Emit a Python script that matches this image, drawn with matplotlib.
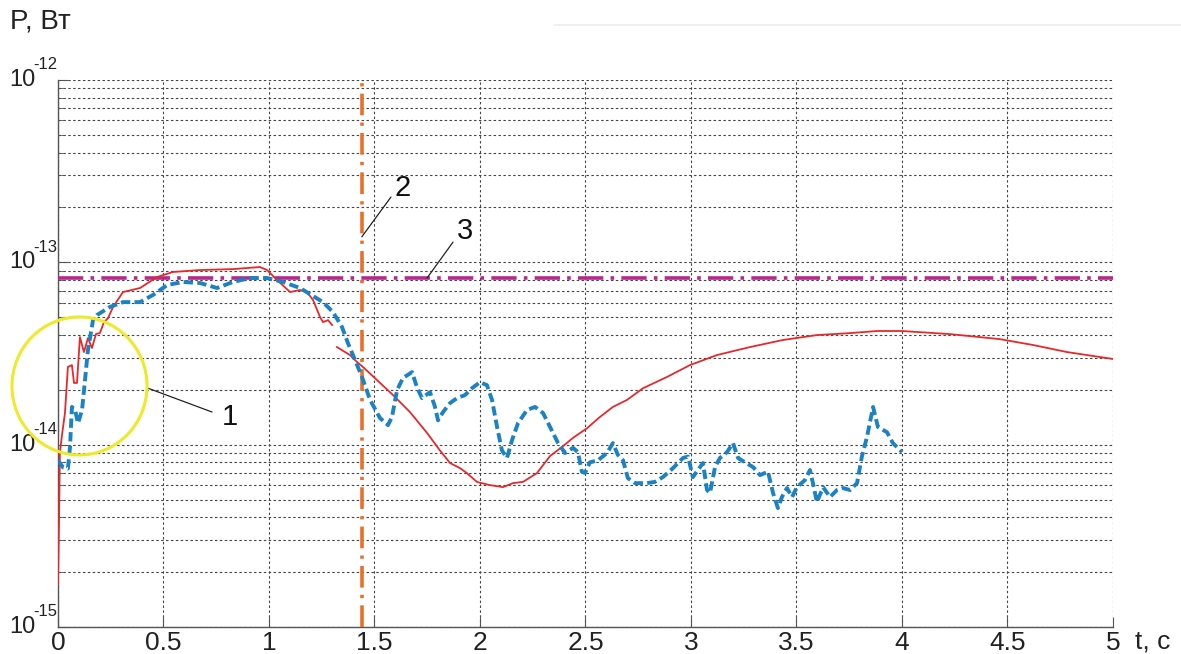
import matplotlib
matplotlib.use("Agg")
import matplotlib.pyplot as plt
from matplotlib.patches import Ellipse
from matplotlib.ticker import LogLocator, NullFormatter

plt.rcParams["font.family"] = ["Liberation Sans", "DejaVu Sans"]

# curve 1 (solid): received power, first segment and the rest
t_red_a = [0.000, 0.005, 0.009, 0.019, 0.033, 0.047, 0.066, 0.076, 0.090, 0.104,
           0.123, 0.142, 0.161, 0.180, 0.199, 0.218, 0.237, 0.261, 0.308, 0.389,
           0.469, 0.545, 0.673, 0.829, 0.957, 0.991, 1.038, 1.100, 1.147, 1.180,
           1.209, 1.242, 1.256, 1.280, 1.299]
p_red_a = [1.70e-15, 3.86e-15, 9.0e-15, 1.13e-14, 1.49e-14, 2.67e-14, 2.73e-14, 2.18e-14, 2.18e-14, 3.89e-14,
           3.22e-14, 3.84e-14, 3.39e-14, 4.04e-14, 4.10e-14, 4.70e-14, 4.94e-14, 5.69e-14, 6.87e-14, 7.23e-14,
           8.30e-14, 8.85e-14, 9.07e-14, 9.18e-14, 9.42e-14, 9.07e-14, 8.00e-14, 6.87e-14, 7.05e-14, 6.87e-14,
           6.21e-14, 5.01e-14, 4.70e-14, 4.82e-14, 4.53e-14]

t_red_b = [1.322, 1.384, 1.417, 1.445, 1.512, 1.588, 1.668, 1.749, 1.810, 1.858,
           1.905, 1.938, 1.986, 2.047, 2.109, 2.156, 2.204, 2.270, 2.332, 2.393,
           2.441, 2.507, 2.569, 2.630, 2.697, 2.773, 2.886, 2.995, 3.123, 3.280,
           3.436, 3.597, 3.754, 3.882, 4.000, 4.227, 4.464, 4.621, 4.782, 5.000]
p_red_b = [3.43e-14, 3.10e-14, 2.84e-14, 2.67e-14, 2.26e-14, 1.87e-14, 1.51e-14, 1.16e-14, 9.3e-15, 7.93e-15,
           7.44e-15, 6.98e-15, 6.24e-15, 6.00e-15, 5.85e-15, 6.15e-15, 6.25e-15, 6.98e-15, 8.66e-15, 9.8e-15,
           1.09e-14, 1.23e-14, 1.42e-14, 1.61e-14, 1.76e-14, 2.04e-14, 2.35e-14, 2.73e-14, 3.10e-14, 3.43e-14,
           3.75e-14, 3.99e-14, 4.09e-14, 4.20e-14, 4.20e-14, 4.04e-14, 3.79e-14, 3.52e-14, 3.22e-14, 2.95e-14]

# curve 1 (dashed): measured power
t_blue = [0.000, 0.024, 0.047, 0.057, 0.066, 0.081, 0.095, 0.114, 0.128, 0.142,
          0.166, 0.185, 0.246, 0.308, 0.389, 0.450, 0.517, 0.592, 0.673, 0.754,
          0.829, 0.910, 0.991, 1.066, 1.147, 1.256, 1.303, 1.346, 1.374, 1.408,
          1.441, 1.479, 1.526, 1.564, 1.583, 1.607, 1.635, 1.678, 1.701, 1.725,
          1.763, 1.787, 1.801, 1.825, 1.858, 1.891, 1.929, 1.962, 2.000, 2.033,
          2.057, 2.081, 2.104, 2.128, 2.152, 2.180, 2.223, 2.261, 2.299, 2.332,
          2.370, 2.403, 2.441, 2.464, 2.483, 2.498, 2.521, 2.559, 2.602, 2.630,
          2.654, 2.678, 2.701, 2.735, 2.791, 2.829, 2.867, 2.915, 2.962, 2.986,
          3.009, 3.033, 3.057, 3.076, 3.090, 3.114, 3.137, 3.171, 3.199, 3.223,
          3.256, 3.294, 3.327, 3.365, 3.389, 3.412, 3.431, 3.455, 3.479, 3.502,
          3.540, 3.564, 3.578, 3.597, 3.626, 3.659, 3.692, 3.720, 3.754, 3.787,
          3.810, 3.834, 3.863, 3.886, 3.929, 3.957, 4.000]
p_blue = [8.2e-15, 7.5e-15, 7.4e-15, 9.7e-15, 1.61e-14, 1.55e-14, 1.31e-14, 1.55e-14, 2.26e-14, 3.30e-14,
          4.82e-14, 5.14e-14, 5.69e-14, 6.05e-14, 6.05e-14, 6.62e-14, 7.50e-14, 7.80e-14, 7.70e-14, 7.23e-14,
          7.80e-14, 8.20e-14, 8.20e-14, 7.80e-14, 7.23e-14, 6.05e-14, 5.34e-14, 4.42e-14, 3.61e-14, 2.91e-14,
          2.35e-14, 1.76e-14, 1.40e-14, 1.28e-14, 1.42e-14, 1.99e-14, 2.32e-14, 2.50e-14, 2.07e-14, 1.80e-14,
          1.94e-14, 1.61e-14, 1.36e-14, 1.51e-14, 1.69e-14, 1.80e-14, 1.87e-14, 2.04e-14, 2.20e-14, 2.12e-14,
          1.76e-14, 1.25e-14, 9.3e-15, 8.45e-15, 1.06e-14, 1.31e-14, 1.55e-14, 1.61e-14, 1.49e-14, 1.25e-14,
          1.02e-14, 9.0e-15, 9.6e-15, 9.1e-15, 7.1e-15, 7.0e-15, 8.0e-15, 8.2e-15, 9.0e-15, 1.02e-14,
          8.77e-15, 8.2e-15, 6.55e-15, 6.15e-15, 6.15e-15, 6.25e-15, 6.64e-15, 7.44e-15, 8.45e-15, 8.6e-15,
          6.64e-15, 7.26e-15, 7.93e-15, 5.64e-15, 5.43e-15, 7.54e-15, 8.45e-15, 9.1e-15, 1.02e-14, 8.45e-15,
          8.0e-15, 7.54e-15, 6.81e-15, 7.1e-15, 5.43e-15, 4.49e-15, 5.16e-15, 5.78e-15, 5.16e-15, 5.85e-15,
          6.39e-15, 7.26e-15, 6.15e-15, 4.84e-15, 5.85e-15, 5.16e-15, 5.64e-15, 5.78e-15, 5.64e-15, 6.15e-15,
          8.6e-15, 1.10e-14, 1.61e-14, 1.25e-14, 1.17e-14, 1.02e-14, 9.1e-15]

t_limit = 1.44        # line 2
p_threshold = 8.2e-14  # line 3

x_ticks = [0, 0.5, 1, 1.5, 2, 2.5, 3, 3.5, 4, 4.5, 5]
x_tick_labels = ["0", "0.5", "1", "1.5", "2", "2.5", "3", "3.5", "4", "4.5", "5"]
y_ticks = [1e-15, 1e-14, 1e-13, 1e-12]
y_exponents = ["-15", "-14", "-13", "-12"]

fig = plt.figure(figsize=(11.81, 6.54), dpi=100)
ax = fig.add_axes([0.0491, 0.0413, 0.8933, 0.8364])

ax.set_yscale("log")
ax.set_xlim(0, 5)
ax.set_ylim(1e-15, 1e-12)

grid_kw = dict(color="#444444", linewidth=0.8, linestyle=(0, (2.2, 2.2)))
ax.set_xticks(x_ticks)
ax.set_xticklabels(x_tick_labels)
ax.set_yticks(y_ticks)
ax.set_yticklabels([""] * len(y_ticks))
ax.yaxis.set_minor_locator(LogLocator(base=10, subs=range(2, 10), numticks=20))
ax.yaxis.set_minor_formatter(NullFormatter())
ax.grid(True, which="major", axis="both", **grid_kw)
ax.grid(True, which="minor", axis="y", **grid_kw)
ax.set_axisbelow(True)

for side in ("top", "right"):
    ax.spines[side].set_visible(False)
for side in ("left", "bottom"):
    ax.spines[side].set_color("#555555")
    ax.spines[side].set_linewidth(1.0)

ax.tick_params(axis="both", which="both", direction="in", colors="#555555",
               labelcolor="#222222")
ax.tick_params(axis="x", which="major", length=7, pad=3, labelsize=19)
ax.tick_params(axis="y", which="major", length=7)
ax.tick_params(axis="y", which="minor", length=4)

# decade labels: base with a raised exponent
ytrans = ax.get_yaxis_transform()
for val, expo in zip(y_ticks, y_exponents):
    ax.annotate("10", xy=(0, val), xycoords=ytrans, xytext=(-16.5, 0),
                textcoords="offset points", ha="right", va="center",
                fontsize=17, color="#222222", annotation_clip=False)
    ax.annotate(expo, xy=(0, val), xycoords=ytrans, xytext=(-17.5, 5.6),
                textcoords="offset points", ha="left", va="bottom",
                fontsize=12, color="#222222", annotation_clip=False)

# curves
ax.plot(t_red_a, p_red_a, color="#E8282A", linewidth=1.3, zorder=4)
ax.plot(t_red_b, p_red_b, color="#E8282A", linewidth=1.3, zorder=4)
ax.plot(t_blue, p_blue, color="#1B82C4", linewidth=2.8, linestyle=(0, (2.4, 1.1)), zorder=5)

# limit lines
ax.axvline(t_limit, color="#E9702A", linewidth=2.6,
           linestyle=(0, (6, 2, 0.9, 2)), zorder=3)
ax.axhline(p_threshold, color="#B8278C", linewidth=2.6,
           linestyle=(0, (7, 2, 1, 2)), zorder=3)

# highlighted region
ring = Ellipse((0.0204, 0.4406), 0.128, 0.2523, transform=ax.transAxes,
               fill=False, edgecolor="#EEEA2A", linewidth=2.2, clip_on=False, zorder=6)
ax.add_patch(ring)

# callouts
line_kw = dict(arrowstyle="-", color="#222222", linewidth=0.9, shrinkA=0, shrinkB=0)
ax.annotate("", xy=(0.4265, 2.04e-14), xytext=(0.730, 1.51e-14), arrowprops=line_kw)
ax.text(0.815, 1.42e-14, "1", fontsize=21, ha="center", va="center", color="#111111")
ax.annotate("", xy=(t_limit, 1.38e-13), xytext=(1.578, 2.28e-13), arrowprops=line_kw)
ax.text(1.635, 2.56e-13, "2", fontsize=21, ha="center", va="center", color="#111111")
ax.annotate("", xy=(1.749, p_threshold), xytext=(1.872, 1.29e-13), arrowprops=line_kw)
ax.text(1.929, 1.49e-13, "3", fontsize=21, ha="center", va="center", color="#111111")

# axis names
fig.text(10 / 1181, 1 - 21 / 654, "P, Вт", fontsize=20, ha="left", va="center", color="#222222")
fig.text(1135 / 1181, 1 - 641 / 654, "t, c", fontsize=19, ha="left", va="center", color="#222222")

# faint rule along the top edge
fig.add_artist(plt.Line2D([555 / 1181, 1.0], [1 - 25 / 654, 1 - 25 / 654],
                          color="#ececec", linewidth=1.2))

fig.savefig("out.png", dpi=100)
